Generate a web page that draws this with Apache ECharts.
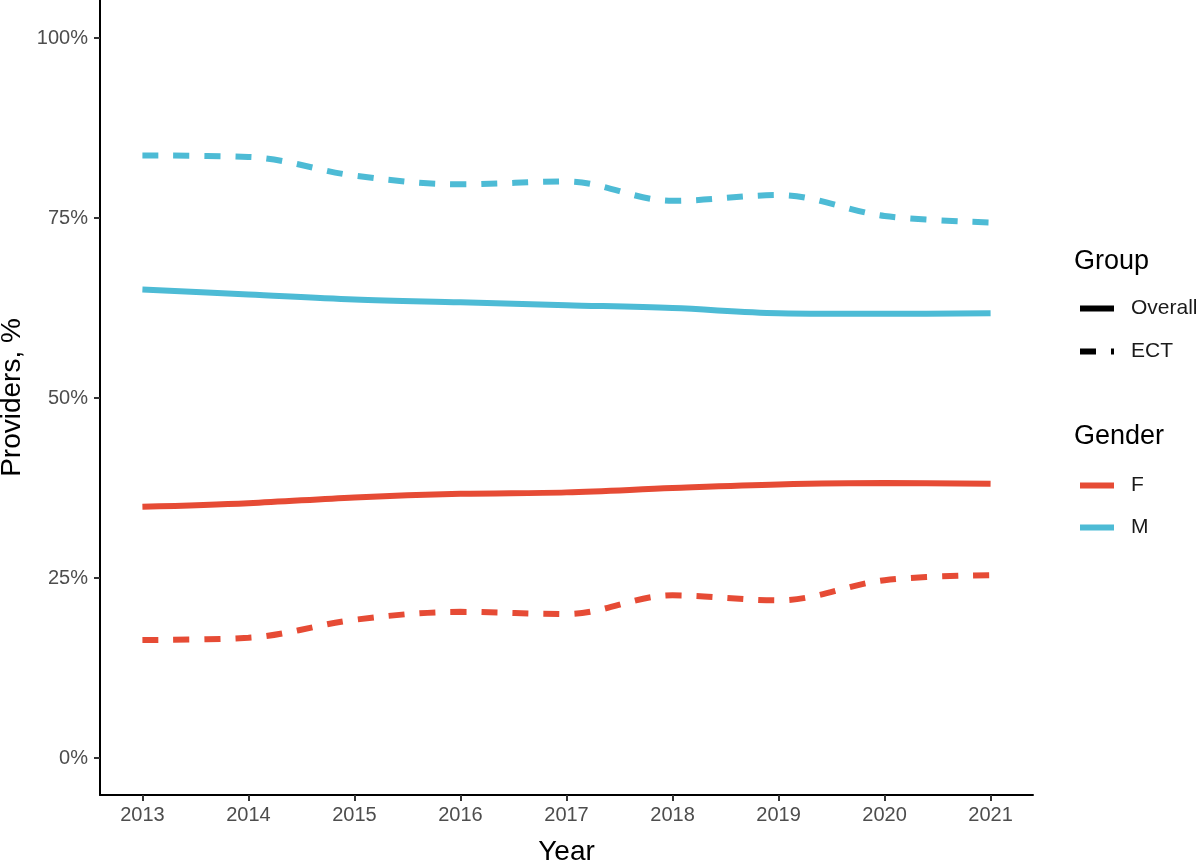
<!DOCTYPE html>
<html>
<head>
<meta charset="utf-8">
<script src="https://cdn.jsdelivr.net/npm/echarts@6/dist/echarts.min.js"></script>
<style>
  html, body { margin: 0; padding: 0; background: #fff; }
  #chart { width: 1200px; height: 863px; }
</style>
</head>
<body>
<div id="chart"></div>
<script>
const years = [2013, 2014, 2015, 2016, 2017, 2018, 2019, 2020, 2021];
const yTicks = [0, 25, 50, 75, 100];

// Providers, % by gender and group
const femaleOverall = [34.9, 35.4, 36.2, 36.7, 36.9, 37.5, 38.0, 38.2, 38.1];
const femaleECT     = [16.4, 16.7, 19.2, 20.3, 20.0, 22.6, 21.9, 24.7, 25.4];
const maleOverall   = [65.1, 64.4, 63.7, 63.3, 62.9, 62.5, 61.8, 61.7, 61.8];
const maleECT       = [83.7, 83.5, 80.9, 79.7, 80.1, 77.4, 78.2, 75.3, 74.4];

const RED = '#E64B35';
const BLUE = '#4DBBD5';
const FONT = '"Liberation Sans", Arial, sans-serif';
const DASH = [16, 15];

// legend keys: solid bar, and dash with a stub of the next dash
const SOLID_KEY = 'path://M0,0 H34 V6 H0 Z';
const DASH_KEY = 'path://M0,0 H16 V6 H0 Z M31,0 H34 V6 H31 Z';

const pairs = arr => years.map((y, i) => [y, arr[i]]);

const dataLine = (name, color, values, dashed) => ({
  name: name,
  type: 'line',
  data: pairs(values),
  smooth: 0.35,
  symbol: 'none',
  lineStyle: { color: color, width: 6, type: dashed ? DASH : 'solid', cap: 'butt' },
  itemStyle: { color: color },
  z: 3
});

// legend-only series
const keyLine = (name, color) => ({
  name: name,
  type: 'line',
  data: [],
  symbol: 'none',
  itemStyle: { color: color },
  lineStyle: { color: color }
});

const chart = echarts.init(document.getElementById('chart'));
chart.setOption({
  backgroundColor: '#fff',
  animation: false,
  textStyle: { fontFamily: FONT },
  title: [
    { text: 'Group', left: 1074, top: 248, padding: 0,
      textStyle: { fontFamily: FONT, fontSize: 27, fontWeight: 'normal', color: '#000' } },
    { text: 'Gender', left: 1074, top: 423, padding: 0,
      textStyle: { fontFamily: FONT, fontSize: 27, fontWeight: 'normal', color: '#000' } }
  ],
  legend: [
    {
      data: [{ name: 'Overall', icon: SOLID_KEY }, { name: 'ECT', icon: DASH_KEY }],
      orient: 'vertical', left: 1080, top: 298, padding: 0,
      itemWidth: 34, itemHeight: 6, itemGap: 22,
      textStyle: { fontFamily: FONT, fontSize: 21, color: '#1a1a1a', padding: [0, 0, 0, 12] },
      selectedMode: false
    },
    {
      data: [{ name: 'F', icon: SOLID_KEY }, { name: 'M', icon: SOLID_KEY }],
      orient: 'vertical', left: 1080, top: 475, padding: 0,
      itemWidth: 34, itemHeight: 6, itemGap: 21,
      textStyle: { fontFamily: FONT, fontSize: 21, color: '#1a1a1a', padding: [0, 0, 0, 12] },
      selectedMode: false
    }
  ],
  grid: { left: 100, right: 167, top: 0, bottom: 68, containLabel: false, outerBoundsMode: 'none' },
  xAxis: {
    type: 'value',
    min: 2012.6, max: 2021.4,
    name: 'Year', nameLocation: 'middle', nameGap: 43,
    nameTextStyle: { fontFamily: FONT, fontSize: 28, color: '#000' },
    axisLine: { show: true, onZero: false, lineStyle: { color: '#000', width: 2 } },
    axisTick: { show: true, length: 6, customValues: years, lineStyle: { color: '#333', width: 2 } },
    axisLabel: { customValues: years, fontSize: 20, color: '#4d4d4d', margin: 10,
                 formatter: v => String(v) },
    splitLine: { show: false }
  },
  yAxis: {
    type: 'value',
    min: -5.14, max: 105.3,
    name: 'Providers, %', nameLocation: 'middle', nameGap: 71,
    nameTextStyle: { fontFamily: FONT, fontSize: 28, color: '#000' },
    axisLine: { show: true, onZero: false, lineStyle: { color: '#000', width: 2 } },
    axisTick: { show: true, length: 6, customValues: yTicks, lineStyle: { color: '#333', width: 2 } },
    axisLabel: { customValues: yTicks, fontSize: 20, color: '#4d4d4d', margin: 12,
                 formatter: v => v + '%' },
    splitLine: { show: false }
  },
  series: [
    dataLine('F Overall', RED, femaleOverall, false),
    dataLine('F ECT', RED, femaleECT, true),
    dataLine('M Overall', BLUE, maleOverall, false),
    dataLine('M ECT', BLUE, maleECT, true),
    keyLine('Overall', '#000'),
    keyLine('ECT', '#000'),
    keyLine('F', RED),
    keyLine('M', BLUE)
  ]
});
</script>
</body>
</html>
